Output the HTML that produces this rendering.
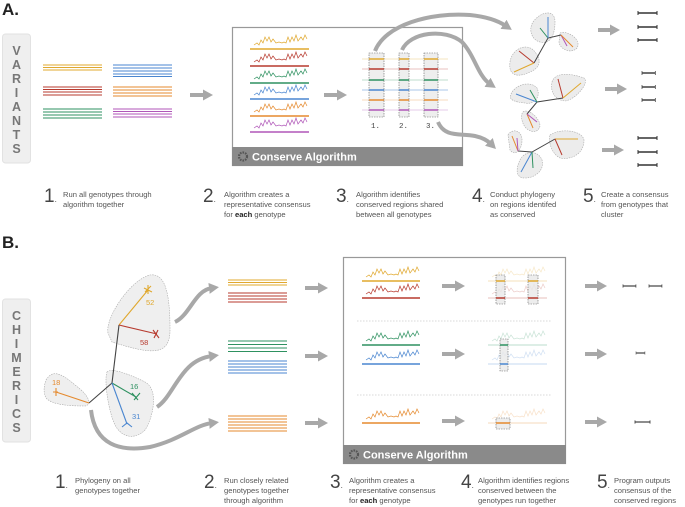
<!DOCTYPE html>
<html><head><meta charset="utf-8"><style>
html,body{margin:0;padding:0;background:#fff;}
svg{display:block;font-family:"Liberation Sans",sans-serif;}
.t{font-size:7.6px;fill:#555;}
.n{font-size:19px;fill:#444;font-weight:300;}
.ar{stroke:#a8a8a8;stroke-width:4;fill:none;}
</style></head><body>
<svg width="685" height="507" viewBox="0 0 685 507" xmlns="http://www.w3.org/2000/svg">
<defs>
<symbol id="w" overflow="visible"><path fill="none" stroke-width="0.7" d="M0,-2 l3,-2 2,2 2,-5 2,3 2,-6 2,4 2,-4 2,5 2,-3 3,4 3,-1 3,1 2,-1 2,1 2,-6 2,5 2,-5 2,4 2,-6 2,6 3,-4 2,3 2,-5 2,4"/></symbol>
<marker id="ah" markerWidth="10" markerHeight="11" refX="3" refY="5.5" orient="auto" markerUnits="userSpaceOnUse"><path d="M0,0 L10,5.5 L0,11 Z" fill="#a8a8a8"/></marker>
<g id="bar"><line x1="0" y1="0" x2="19" y2="0" stroke="#333" stroke-width="1.4"/><line x1="0" y1="-2" x2="0" y2="2" stroke="#333" stroke-width="1"/><line x1="19" y1="-2" x2="19" y2="2" stroke="#333" stroke-width="1"/></g>
</defs>

<!-- ===== A ===== -->
<text x="2" y="15" font-size="17" font-weight="bold" fill="#222">A.</text>
<rect x="2.5" y="34" width="28" height="129" rx="3" fill="#efefef" stroke="#e2e2e2"/>
<g font-size="12.5" font-weight="bold" fill="#777" text-anchor="middle">
<text x="16.5" y="55">V</text><text x="16.5" y="69">A</text><text x="16.5" y="83">R</text><text x="16.5" y="97">I</text><text x="16.5" y="111">A</text><text x="16.5" y="125">N</text><text x="16.5" y="139">T</text><text x="16.5" y="153">S</text>
</g>
<g stroke-width="0.9">
<g stroke="#e0a82e"><line x1="43" y1="65" x2="102" y2="65"/><line x1="43" y1="67.5" x2="102" y2="67.5"/><line x1="43" y1="70" x2="102" y2="70"/></g>
<g stroke="#4a86d0"><line x1="113" y1="65" x2="172" y2="65"/><line x1="113" y1="68" x2="172" y2="68"/><line x1="113" y1="71" x2="172" y2="71"/><line x1="113" y1="74" x2="172" y2="74"/><line x1="113" y1="76.5" x2="172" y2="76.5"/></g>
<g stroke="#b73a2e"><line x1="43" y1="87" x2="102" y2="87"/><line x1="43" y1="89.5" x2="102" y2="89.5"/><line x1="43" y1="92" x2="102" y2="92"/><line x1="43" y1="95" x2="102" y2="95"/></g>
<g stroke="#e58a2e"><line x1="113" y1="87" x2="172" y2="87"/><line x1="113" y1="90" x2="172" y2="90"/><line x1="113" y1="93" x2="172" y2="93"/><line x1="113" y1="96" x2="172" y2="96"/></g>
<g stroke="#2e9160"><line x1="43" y1="109" x2="102" y2="109"/><line x1="43" y1="112" x2="102" y2="112"/><line x1="43" y1="115" x2="102" y2="115"/><line x1="43" y1="118" x2="102" y2="118"/></g>
<g stroke="#b056b8"><line x1="113" y1="109" x2="172" y2="109"/><line x1="113" y1="111.5" x2="172" y2="111.5"/><line x1="113" y1="114" x2="172" y2="114"/><line x1="113" y1="117" x2="172" y2="117"/></g>
</g>
<line class="ar" x1="190" y1="95" x2="206" y2="95" marker-end="url(#ah)"/>

<rect x="232.5" y="27.5" width="230" height="138" fill="#fff" stroke="#999" stroke-width="1.2"/>
<rect x="232" y="147" width="231" height="19" fill="#8a8a8a"/>
<circle cx="243" cy="156.5" r="4" fill="none" stroke="#555" stroke-width="2.2" stroke-dasharray="1.6 1"/>
<text x="252" y="160.5" font-size="11" font-weight="bold" fill="#fff">Conserve Algorithm</text>

<g stroke-width="1.6">
<line x1="250" y1="49" x2="309" y2="49" stroke="#e0a82e"/><use href="#w" x="254" y="47" stroke="#e0a82e"/>
<line x1="250" y1="66" x2="309" y2="66" stroke="#b73a2e"/><use href="#w" x="254" y="64" stroke="#b73a2e"/>
<line x1="250" y1="83" x2="309" y2="83" stroke="#2e9160"/><use href="#w" x="254" y="81" stroke="#2e9160"/>
<line x1="250" y1="99" x2="309" y2="99" stroke="#4a86d0"/><use href="#w" x="254" y="97" stroke="#4a86d0"/>
<line x1="250" y1="116" x2="309" y2="116" stroke="#e58a2e"/><use href="#w" x="254" y="114" stroke="#e58a2e"/>
<line x1="250" y1="132" x2="309" y2="132" stroke="#b056b8"/><use href="#w" x="254" y="130" stroke="#b056b8"/>
</g>
<line class="ar" x1="324" y1="95" x2="340" y2="95" marker-end="url(#ah)"/>

<g opacity="0.3" stroke-width="1">
<line x1="362" y1="59" x2="448" y2="59" stroke="#e0a82e"/><line x1="362" y1="69" x2="448" y2="69" stroke="#b73a2e"/><line x1="362" y1="80" x2="448" y2="80" stroke="#2e9160"/><line x1="362" y1="90" x2="448" y2="90" stroke="#4a86d0" stroke-width="1.5"/><line x1="362" y1="100" x2="448" y2="100" stroke="#e58a2e"/><line x1="362" y1="110" x2="448" y2="110" stroke="#b056b8"/>
</g>
<g fill="#eee" stroke="#666" stroke-width="0.6" stroke-dasharray="1.5 1">
<rect x="369" y="53" width="15" height="64"/><rect x="399" y="53" width="10" height="64"/><rect x="424" y="53" width="14" height="64"/>
</g>
<g stroke-width="1.5">
<path d="M369,59h15M399,59h10M424,59h14" stroke="#e0a82e"/>
<path d="M369,69h15M399,69h10M424,69h14" stroke="#b73a2e"/>
<path d="M369,80h15M399,80h10M424,80h14" stroke="#2e9160"/>
<path d="M369,90h15M399,90h10M424,90h14" stroke="#4a86d0"/>
<path d="M369,100h15M399,100h10M424,100h14" stroke="#e58a2e"/>
<path d="M369,110h15M399,110h10M424,110h14" stroke="#b056b8"/>
</g>
<g font-family="Liberation Mono" font-size="7.5" fill="#444"><text x="371" y="128">1.</text><text x="399" y="128">2.</text><text x="426" y="128">3.</text></g>

<!-- curved arrows A -->
<path class="ar" d="M375,51 C385,25 430,12 470,15 C490,17 500,22 506,26" marker-end="url(#ah)"/>
<path class="ar" d="M402,50 C410,32 445,28 462,42 C475,56 478,76 490,84" marker-end="url(#ah)"/>
<path class="ar" d="M438,122 C445,138 460,133 475,136 C484,138 488,141 491,144" marker-end="url(#ah)"/>

<!-- trees A -->
<g fill="#ececec" stroke="#aaa" stroke-width="0.6" stroke-dasharray="1.5 1">
<path d="M533,22 C540,12 555,8 555,22 C555,35 550,45 540,42 C532,40 528,30 533,22Z"/>
<path d="M560,33 C568,30 582,40 577,48 C572,54 560,50 559,42Z"/>
<path d="M510,62 C512,48 528,42 535,52 C542,60 540,68 530,72 C518,78 508,76 510,62Z"/>
<path d="M511,94 C515,85 530,80 537,88 C541,96 535,105 525,103 C515,102 508,100 511,94Z"/>
<path d="M552,82 C555,72 570,73 584,78 C590,83 575,100 565,101 C555,100 550,92 552,82Z"/>
<path d="M523,112 C528,108 540,118 540,126 C538,134 530,132 526,128 C522,124 520,115 523,112Z"/>
<path d="M508,135 C512,128 522,130 522,140 C522,150 515,157 510,150Z"/>
<path d="M550,135 C560,128 582,130 584,140 C584,155 570,160 560,158 C552,154 548,142 550,135Z"/>
<path d="M520,160 C525,150 538,150 542,160 C545,170 535,178 525,178 C515,178 516,168 520,160Z"/>
</g>
<g fill="none" stroke-width="1">
<path d="M534,63 L548,38 L561,35" stroke="#444"/>
<path d="M548,38 L540,28" stroke="#2e9160"/><path d="M548,38 L548,17" stroke="#4a86d0"/>
<path d="M561,35 L567,46" stroke="#b056b8"/><path d="M561,35 L573,47" stroke="#e58a2e"/>
<path d="M534,63 L519,51" stroke="#b73a2e"/><path d="M534,63 L514,72" stroke="#e0a82e"/>
<path d="M527,114 L537,102 L563,98" stroke="#444"/>
<path d="M537,102 L516,94" stroke="#4a86d0"/><path d="M537,102 L530,90" stroke="#2e9160"/>
<path d="M563,98 L558,79" stroke="#b73a2e"/><path d="M563,98 L581,83" stroke="#e0a82e"/>
<path d="M527,114 L533,128" stroke="#e58a2e"/><path d="M527,114 L537,122" stroke="#b056b8"/>
<path d="M518,151 L532,152 L555,139" stroke="#444"/>
<path d="M518,151 L512,136" stroke="#e58a2e"/><path d="M518,151 L517,138" stroke="#b056b8"/>
<path d="M555,139 L578,139" stroke="#e0a82e"/><path d="M555,139 L562,155" stroke="#b73a2e"/>
<path d="M532,152 L521,172" stroke="#4a86d0"/><path d="M532,152 L533,168" stroke="#2e9160"/>
</g>

<line class="ar" x1="598" y1="30" x2="613" y2="30" marker-end="url(#ah)"/>
<line class="ar" x1="605" y1="89" x2="620" y2="89" marker-end="url(#ah)"/>
<line class="ar" x1="602" y1="150" x2="617" y2="150" marker-end="url(#ah)"/>
<use href="#bar" x="638" y="13"/><use href="#bar" x="638" y="27"/><use href="#bar" x="638" y="40"/>
<g transform="translate(642,0) scale(0.7,1)"><use href="#bar" x="0" y="73"/><use href="#bar" x="0" y="87"/><use href="#bar" x="0" y="100"/></g>
<use href="#bar" x="638" y="138"/><use href="#bar" x="638" y="152"/><use href="#bar" x="638" y="165"/>

<text class="n" x="44" y="202">1<tspan font-size="8">.</tspan></text>
<text class="t" x="63" y="197">Run all genotypes through</text><text class="t" x="63" y="207">algorithm together</text>
<text class="n" x="203" y="202">2<tspan font-size="8">.</tspan></text>
<text class="t" x="224" y="197">Algorithm creates a</text><text class="t" x="224" y="207">representative consensus</text><text class="t" x="224" y="217">for <tspan font-weight="bold" fill="#222">each</tspan> genotype</text>
<text class="n" x="336" y="202">3<tspan font-size="8">.</tspan></text>
<text class="t" x="356" y="197">Algorithm identifies</text><text class="t" x="356" y="207">conserved regions shared</text><text class="t" x="356" y="217">between all genotypes</text>
<text class="n" x="472" y="202">4<tspan font-size="8">.</tspan></text>
<text class="t" x="490" y="197">Conduct phylogeny</text><text class="t" x="490" y="207">on regions identifed</text><text class="t" x="490" y="217">as conserved</text>
<text class="n" x="583" y="202">5<tspan font-size="8">.</tspan></text>
<text class="t" x="601" y="197">Create a consensus</text><text class="t" x="601" y="207">from genotypes that</text><text class="t" x="601" y="217">cluster</text>

<!-- ===== B ===== -->
<text x="2" y="248" font-size="17" font-weight="bold" fill="#222">B.</text>
<rect x="2.5" y="299" width="28" height="143" rx="3" fill="#efefef" stroke="#e2e2e2"/>
<g font-size="12.5" font-weight="bold" fill="#777" text-anchor="middle">
<text x="16.5" y="320">C</text><text x="16.5" y="334">H</text><text x="16.5" y="348">I</text><text x="16.5" y="362">M</text><text x="16.5" y="376">E</text><text x="16.5" y="390">R</text><text x="16.5" y="404">I</text><text x="16.5" y="418">C</text><text x="16.5" y="432">S</text>
</g>
<g fill="#efefef" stroke="#aaa" stroke-width="0.6" stroke-dasharray="1.5 1">
<path d="M108,333 C105,318 130,280 150,275 C165,273 170,292 170,330 C170,357 150,354 112,342 Z"/>
<path d="M107,372 C110,368 125,372 145,382 C160,390 152,420 145,430 C135,440 122,438 115,425 C108,410 104,380 107,372Z"/>
<path d="M46,380 C52,370 60,372 75,385 C90,396 92,405 85,406 C70,406 52,405 46,398 C43,392 44,386 46,380Z"/>
</g>
<g fill="none" stroke-width="1.1">
<path d="M89,403 L112,383 L119,325" stroke="#444"/>
<path d="M119,325 L148,290" stroke="#e0a82e"/><path d="M119,325 L157,334" stroke="#b73a2e"/>
<path d="M112,383 L136,397" stroke="#2e9160"/><path d="M112,383 L127,424" stroke="#4a86d0"/>
<path d="M89,403 L56,392" stroke="#e58a2e"/>
<path d="M144,288l8,4M148,285v9M151,286l-6,6" stroke="#e0a82e"/>
<path d="M153,330l6,8M158,330l-4,8" stroke="#b73a2e"/>
<path d="M132,393l6,7M140,393l-6,7" stroke="#2e9160"/>
<path d="M122,427l5,-4 5,4" stroke="#4a86d0"/>
<path d="M56,388v8M53,392h5" stroke="#e58a2e"/>
</g>
<g font-size="7.5"><text x="146" y="305" fill="#e0a82e">52</text><text x="140" y="345" fill="#b73a2e">58</text><text x="130" y="389" fill="#2e9160">16</text><text x="132" y="419" fill="#4a86d0">31</text><text x="52" y="385" fill="#e58a2e">18</text></g>
<path class="ar" d="M175,322 C190,315 195,290 212,288" marker-end="url(#ah)"/>
<path class="ar" d="M157,407 C175,395 180,360 212,356" marker-end="url(#ah)"/>
<path class="ar" d="M91,410 C95,445 120,452 150,447 C180,440 195,425 212,423" marker-end="url(#ah)"/>

<g stroke-width="0.9">
<g stroke="#e0a82e"><line x1="228" y1="280" x2="287" y2="280"/><line x1="228" y1="282.5" x2="287" y2="282.5"/><line x1="228" y1="285" x2="287" y2="285"/></g>
<g stroke="#b73a2e"><line x1="228" y1="293" x2="287" y2="293"/><line x1="228" y1="296" x2="287" y2="296"/><line x1="228" y1="299" x2="287" y2="299"/><line x1="228" y1="302" x2="287" y2="302"/></g>
<g stroke="#2e9160"><line x1="228" y1="341" x2="287" y2="341"/><line x1="228" y1="344.5" x2="287" y2="344.5"/><line x1="228" y1="348" x2="287" y2="348"/><line x1="228" y1="351.5" x2="287" y2="351.5"/></g>
<g stroke="#4a86d0"><line x1="228" y1="361" x2="287" y2="361"/><line x1="228" y1="364" x2="287" y2="364"/><line x1="228" y1="367" x2="287" y2="367"/><line x1="228" y1="370" x2="287" y2="370"/><line x1="228" y1="373" x2="287" y2="373"/></g>
<g stroke="#e58a2e"><line x1="228" y1="416" x2="287" y2="416"/><line x1="228" y1="419" x2="287" y2="419"/><line x1="228" y1="422" x2="287" y2="422"/><line x1="228" y1="425" x2="287" y2="425"/><line x1="228" y1="428" x2="287" y2="428"/><line x1="228" y1="431" x2="287" y2="431"/></g>
</g>
<line class="ar" x1="305" y1="288" x2="321" y2="288" marker-end="url(#ah)"/>
<line class="ar" x1="305" y1="356" x2="321" y2="356" marker-end="url(#ah)"/>
<line class="ar" x1="305" y1="423" x2="321" y2="423" marker-end="url(#ah)"/>

<rect x="343.5" y="257.5" width="222" height="206" fill="#fff" stroke="#999" stroke-width="1.2"/>
<rect x="343" y="445" width="223" height="19" fill="#8a8a8a"/>
<circle cx="354" cy="454.5" r="4" fill="none" stroke="#555" stroke-width="2.2" stroke-dasharray="1.6 1"/>
<text x="363" y="458.5" font-size="11" font-weight="bold" fill="#fff">Conserve Algorithm</text>
<g stroke="#ccc" stroke-width="0.7" stroke-dasharray="1.5 1.5"><line x1="357" y1="321" x2="552" y2="321"/><line x1="357" y1="395" x2="552" y2="395"/></g>
<g stroke-width="1.5">
<line x1="362" y1="281" x2="420" y2="281" stroke="#e0a82e"/><use href="#w" x="366" y="279" stroke="#e0a82e"/>
<line x1="362" y1="298" x2="420" y2="298" stroke="#b73a2e"/><use href="#w" x="366" y="296" stroke="#b73a2e"/>
<line x1="362" y1="345" x2="420" y2="345" stroke="#2e9160"/><use href="#w" x="366" y="343" stroke="#2e9160"/>
<line x1="362" y1="364" x2="420" y2="364" stroke="#4a86d0"/><use href="#w" x="366" y="362" stroke="#4a86d0"/>
<line x1="362" y1="423" x2="420" y2="423" stroke="#e58a2e"/><use href="#w" x="366" y="421" stroke="#e58a2e"/>
</g>
<line class="ar" x1="442" y1="286" x2="458" y2="286" marker-end="url(#ah)"/>
<line class="ar" x1="442" y1="354" x2="458" y2="354" marker-end="url(#ah)"/>
<line class="ar" x1="442" y1="421" x2="458" y2="421" marker-end="url(#ah)"/>
<g opacity="0.25" stroke-width="1.3">
<line x1="488" y1="281" x2="547" y2="281" stroke="#e0a82e"/><use href="#w" x="492" y="279" stroke="#e0a82e"/>
<line x1="488" y1="298" x2="547" y2="298" stroke="#b73a2e"/><use href="#w" x="492" y="296" stroke="#b73a2e"/>
<line x1="488" y1="345" x2="547" y2="345" stroke="#2e9160"/><use href="#w" x="492" y="343" stroke="#2e9160"/>
<line x1="488" y1="364" x2="547" y2="364" stroke="#4a86d0"/><use href="#w" x="492" y="362" stroke="#4a86d0"/>
<line x1="488" y1="423" x2="547" y2="423" stroke="#e58a2e"/><use href="#w" x="492" y="421" stroke="#e58a2e"/>
</g>
<g fill="#e8e8e8" fill-opacity="0.8" stroke="#666" stroke-width="0.6" stroke-dasharray="1.5 1">
<rect x="496" y="275" width="9" height="29"/><rect x="528" y="275" width="10" height="29"/><rect x="500" y="339" width="8" height="32"/><rect x="496" y="418" width="14" height="11"/>
</g>
<g stroke-width="1.5">
<path d="M496,281h9M528,281h10" stroke="#e0a82e"/><path d="M496,298h9M528,298h10" stroke="#b73a2e"/>
<path d="M500,345h8" stroke="#2e9160"/><path d="M500,364h8" stroke="#4a86d0"/><path d="M496,423h14" stroke="#e58a2e"/>
</g>

<line class="ar" x1="585" y1="286" x2="600" y2="286" marker-end="url(#ah)"/>
<line class="ar" x1="585" y1="354" x2="600" y2="354" marker-end="url(#ah)"/>
<line class="ar" x1="585" y1="422" x2="600" y2="422" marker-end="url(#ah)"/>
<g transform="translate(623,286) scale(0.68,0.8)"><use href="#bar"/></g>
<g transform="translate(649,286) scale(0.68,0.8)"><use href="#bar"/></g>
<g transform="translate(636,353) scale(0.47,0.8)"><use href="#bar"/></g>
<g transform="translate(635,422) scale(0.79,0.8)"><use href="#bar"/></g>

<text class="n" x="55" y="488">1<tspan font-size="8">.</tspan></text>
<text class="t" x="75" y="483">Phylogeny on all</text><text class="t" x="75" y="493">genotypes together</text>
<text class="n" x="204" y="488">2<tspan font-size="8">.</tspan></text>
<text class="t" x="224" y="483">Run closely related</text><text class="t" x="224" y="493">genotypes together</text><text class="t" x="224" y="503">through algorithm</text>
<text class="n" x="330" y="488">3<tspan font-size="8">.</tspan></text>
<text class="t" x="349" y="483">Algorithm creates a</text><text class="t" x="349" y="493">representative consensus</text><text class="t" x="349" y="503">for <tspan font-weight="bold" fill="#222">each</tspan> genotype</text>
<text class="n" x="461" y="488">4<tspan font-size="8">.</tspan></text>
<text class="t" x="478" y="483">Algorithm identifies regions</text><text class="t" x="478" y="493">conserved between the</text><text class="t" x="478" y="503">genotypes run together</text>
<text class="n" x="597" y="488">5<tspan font-size="8">.</tspan></text>
<text class="t" x="614" y="483">Program outputs</text><text class="t" x="614" y="493">consensus of the</text><text class="t" x="614" y="503">conserved regions</text>
</svg>
</body></html>
